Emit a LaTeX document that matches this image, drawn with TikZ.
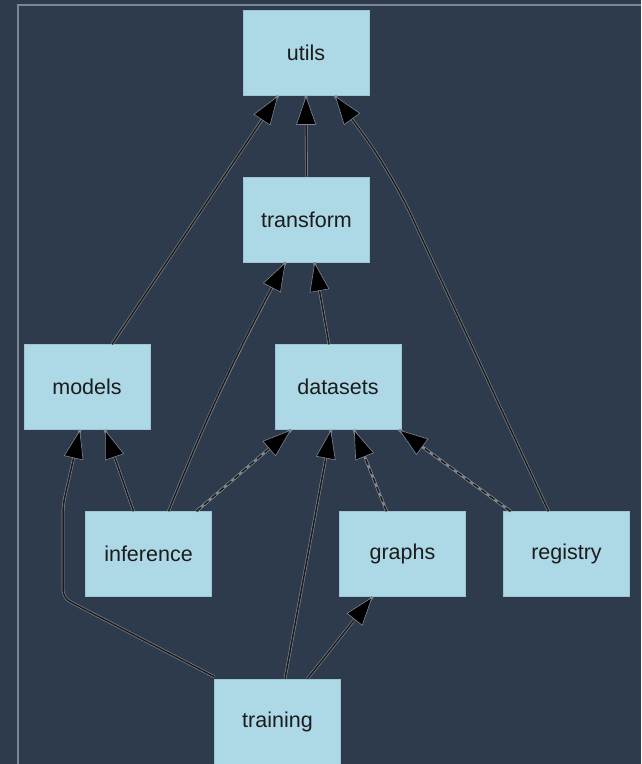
\documentclass[tikz,border=0pt]{standalone}
\usepackage{fontspec}
\setmainfont{Liberation Sans}
\usetikzlibrary{arrows.meta}
\definecolor{bgnavy}{HTML}{2E3B4D}
\definecolor{framegray}{HTML}{7C8796}
\definecolor{boxblue}{HTML}{ADD8E6}
\definecolor{boxline}{HTML}{9DC4D2}
\definecolor{edgeink}{HTML}{1C1C1C}
\definecolor{halo}{HTML}{80868E}
\tikzset{
  module/.style={rectangle, fill=boxblue, draw=boxline, line width=0.6pt,
    minimum width=126pt, minimum height=85pt, inner sep=0pt,
    font=\fontsize{21.5}{24}\selectfont, text=edgeink},
  dep/.style={draw=edgeink, line width=1.5pt,
    -{Triangle[length=29pt, width=20pt, line width=0.6pt, color=halo, fill=black]},
    preaction={draw=halo, line width=2.8pt, -}},
  weakdep/.style={dep, dash pattern=on 6pt off 4pt,
    preaction={draw=halo, line width=2.8pt, -, dash pattern=on 6pt off 4pt}},
}
\begin{document}
\begin{tikzpicture}[x=1pt, y=-1pt]
  % canvas and frame
  \fill[bgnavy] (0,0) rectangle (641,764);
  \useasboundingbox (0,0) rectangle (641,764);
  \draw[framegray, line width=1.2pt] (18,764) -- (18,5) -- (641,5);

  % modules
  \node[module] (utils)     at (306,53)    {utils};
  \node[module] (transform) at (306.5,219.5) {transform};
  \node[module] (models)    at (87,387)    {models};
  \node[module] (datasets)  at (338,387)   {datasets};
  \node[module] (inference) at (148.5,554) {inference};
  \node[module] (graphs)    at (402.5,554) {graphs};
  \node[module] (registry)  at (566.5,554) {registry};
  \node[module] (training)  at (277.5,721.5) {training};

  % bend points
  \coordinate (tmA) at (63,598);
  \coordinate (tmB) at (63,505);
  \coordinate (ruA) at (392,174);

  % dependencies
  \draw[dep] ([xshift=25pt]models.north) -- ([xshift=-28pt]utils.south);
  \draw[dep] (transform.north) -- (utils.south);
  \draw[dep, rounded corners=45pt] ([xshift=-18pt]registry.north) -- (ruA) -- ([xshift=29pt]utils.south);
  \draw[dep] ([xshift=-9pt]datasets.north) -- ([xshift=8pt]transform.south);
  \draw[dep] ([xshift=20pt]inference.north) to[bend left=3] ([xshift=-21pt]transform.south);
  \draw[dep] ([xshift=-15pt]inference.north) -- ([xshift=18pt]models.south);
  \draw[weakdep] ([xshift=48pt]inference.north) -- ([xshift=-47pt]datasets.south);
  \draw[dep, rounded corners=8pt] ([yshift=2pt]training.north west) -- (tmA) -- (tmB) -- ([xshift=-7pt]models.south);
  \draw[dep] ([xshift=7.5pt]training.north) -- ([xshift=-7pt]datasets.south);
  \draw[dep] ([xshift=30pt]training.north) -- ([xshift=-30pt]graphs.south);
  \draw[weakdep] ([xshift=-16pt]graphs.north) -- ([xshift=16pt]datasets.south);
  \draw[weakdep] ([xshift=-56pt]registry.north) -- ([xshift=61pt]datasets.south);
\end{tikzpicture}
\end{document}
